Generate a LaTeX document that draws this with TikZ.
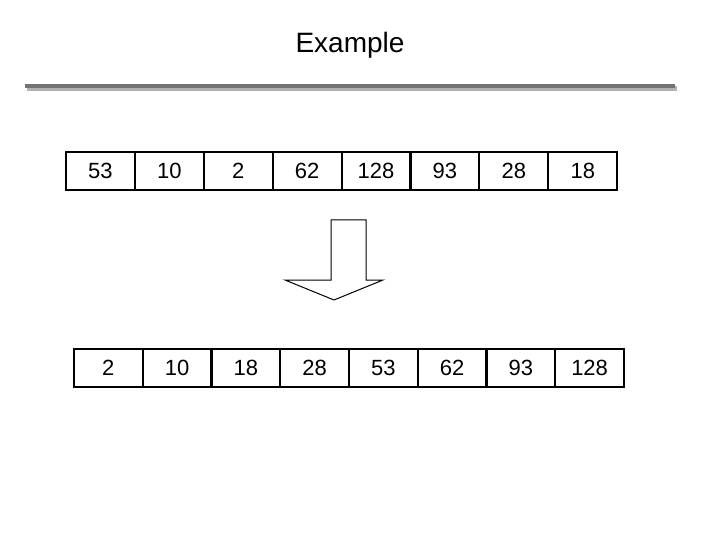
\documentclass[tikz,border=0pt]{standalone}
\usepackage{fontspec}
\setmainfont{Liberation Sans}
\begin{document}
\begin{tikzpicture}[x=1pt,y=-1pt]
	\tikzstyle{bunka} = [rectangle, draw=black, line width=2pt, minimum width=68.8pt, minimum height=38pt, inner sep=0pt, font=\fontsize{22}{24}\selectfont]
	\tikzstyle{sipka} = [draw=black, line width=1pt, fill=white]
	\useasboundingbox (0,0) rectangle (720,540);
	
	\node (nadpis) at (350,45) {\fontsize{28}{30}\selectfont Example};
	\draw [line width=5pt, gray!60] (27,89) -- (677,89);
	\draw [line width=4pt, gray!90!black] (25,86) -- (675,86);
	
	% vstup
	\foreach \v [count=\i] in {53,10,2,62,128,93,28,18}
		\node (a\i) [bunka] at (66+68.9*\i-34.45,171) {\v};
	% vystup
	\foreach \v [count=\i] in {2,10,18,28,53,62,93,128}
		\node (b\i) [bunka] at (74+68.75*\i-34.4,367.5) {\v};
	
	\draw [sipka] (331,220) -- (366,220) -- (366,280) -- (383,280) -- (334,300) -- (285,280) -- (331,280) -- cycle;
\end{tikzpicture}
\end{document}
